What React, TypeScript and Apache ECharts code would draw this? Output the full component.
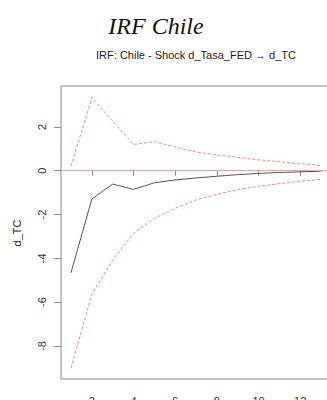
import React, { useEffect, useRef } from "react";
import * as echarts from "echarts";

const horizons = [1, 2, 3, 4, 5, 6, 7, 8, 9, 10, 11, 12, 13];
const irf = [-4.66, -1.29, -0.61, -0.85, -0.55, -0.42, -0.33, -0.25, -0.18, -0.12, -0.08, -0.05, -0.02];
const upper = [0.21, 3.34, 2.27, 1.2, 1.33, 1.08, 0.86, 0.72, 0.61, 0.5, 0.41, 0.32, 0.24];
const lower = [-9.02, -5.64, -4.08, -2.86, -2.17, -1.72, -1.33, -1.08, -0.86, -0.71, -0.59, -0.48, -0.39];
const xTicks = [2, 4, 6, 8, 10, 12];
const yTicks = [-8, -6, -4, -2, 0, 2];

export default function App() {
  const ref = useRef<HTMLDivElement>(null);
  useEffect(() => {
    if (!ref.current) return;
    const chart = echarts.init(ref.current, null, { renderer: "svg" });
    const pairs = (vals: number[]) => horizons.map((h, i) => [h, vals[i]]);
    const tickFont = { fontFamily: "Liberation Sans", fontSize: 11, color: "#333" };
    chart.setOption({
      animation: false,
      backgroundColor: "#fff",
      graphic: [
        {
          type: "text",
          x: 156,
          y: 26,
          style: {
            text: "IRF Chile",
            font: "italic 24px 'Liberation Serif'",
            fill: "#111",
            textAlign: "center",
            textVerticalAlign: "middle",
          },
        },
        {
          type: "text",
          x: 196,
          y: 55,
          style: {
            text: "IRF: Chile - Shock d_Tasa_FED \u2192 d_TC",
            font: "11px 'Liberation Sans'",
            fill: "#222",
            textAlign: "center",
            textVerticalAlign: "middle",
          },
        },
        {
          type: "text",
          x: 17,
          y: 233,
          rotation: Math.PI / 2,
          style: {
            text: "d_TC",
            font: "11px 'Liberation Sans'",
            fill: "#222",
            textAlign: "center",
            textVerticalAlign: "middle",
          },
        },
      ],
      grid: {
        left: 61,
        top: 86,
        width: 270,
        height: 293,
        show: true,
        containLabel: false,
        outerBoundsMode: "none",
        borderColor: "#8a8a8a",
        borderWidth: 1,
        backgroundColor: "transparent",
      },
      xAxis: {
        type: "value",
        min: 0.52,
        max: 13.48,
        splitLine: { show: false },
        axisLine: { show: false },
        axisTick: { show: true, length: 5, lineStyle: { color: "#8a8a8a" }, customValues: xTicks },
        axisLabel: { ...tickFont, margin: 16, customValues: xTicks },
      },
      yAxis: {
        type: "value",
        min: -9.51,
        max: 3.87,
        splitLine: { show: false },
        axisLine: { show: false },
        axisTick: { show: true, length: 7, lineStyle: { color: "#8a8a8a" }, customValues: yTicks },
        axisLabel: { ...tickFont, margin: 14, rotate: 90, customValues: yTicks },
      },
      series: [
        {
          type: "line",
          data: pairs(irf),
          symbol: "none",
          lineStyle: { color: "#555", width: 1 },
          markLine: {
            silent: true,
            symbol: "none",
            label: { show: false },
            lineStyle: { color: "#ff9a9a", type: "solid", width: 1 },
            data: [{ yAxis: 0 }],
          },
          z: 3,
        },
        {
          type: "line",
          data: pairs(upper),
          symbol: "none",
          lineStyle: { color: "#ff7f7f", width: 1, type: [3, 2] },
        },
        {
          type: "line",
          data: pairs(lower),
          symbol: "none",
          lineStyle: { color: "#ff7f7f", width: 1, type: [3, 2] },
        },
      ],
    });
    return () => chart.dispose();
  }, []);
  return (
    <div
      ref={ref}
      style={{ position: "fixed", left: 0, top: 0, width: 327, height: 400 }}
    />
  );
}
